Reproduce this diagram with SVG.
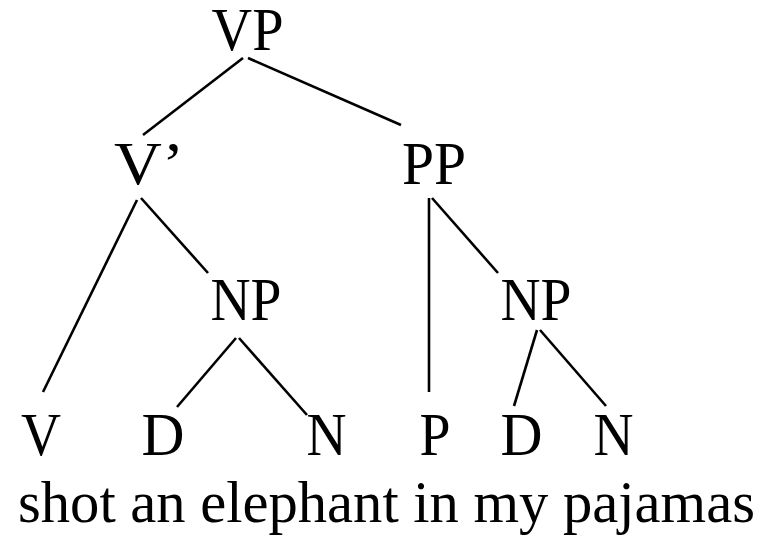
<svg xmlns="http://www.w3.org/2000/svg" width="764" height="539" viewBox="0 0 764 539">
<style>
.lbl{font-family:"Liberation Serif","Times New Roman",serif;font-size:61px;fill:#000;text-anchor:middle}
.sent{font-family:"Liberation Serif","Times New Roman",serif;font-size:60px;fill:#000}
.edge{stroke:#000;stroke-width:2.6;fill:none;stroke-linecap:butt}
</style>
<rect width="764" height="539" fill="#fff"/>
<g id="connectors">
<line class="edge" x1="243" y1="58" x2="143" y2="135"/>
<line class="edge" x1="248" y1="58" x2="401" y2="125"/>
<line class="edge" x1="137" y1="200" x2="43" y2="392"/>
<line class="edge" x1="141" y1="198" x2="208" y2="273"/>
<line class="edge" x1="429" y1="198" x2="429" y2="392"/>
<line class="edge" x1="432" y1="198" x2="498" y2="273"/>
<line class="edge" x1="236" y1="338" x2="177" y2="407"/>
<line class="edge" x1="239" y1="338" x2="307" y2="415"/>
<line class="edge" x1="537" y1="330" x2="514" y2="406"/>
<line class="edge" x1="540" y1="330" x2="606" y2="406"/>
</g>
<g id="node-VP"><text class="lbl" x="247.5" y="50" textLength="72" lengthAdjust="spacingAndGlyphs">VP</text></g>
<g id="node-Vbar"><text class="lbl" x="149" y="184" textLength="70" lengthAdjust="spacingAndGlyphs">V’</text></g>
<g id="node-PP"><text class="lbl" x="434" y="184" textLength="64" lengthAdjust="spacingAndGlyphs">PP</text></g>
<g id="node-NP1"><text class="lbl" x="246" y="320" textLength="71" lengthAdjust="spacingAndGlyphs">NP</text></g>
<g id="node-NP2"><text class="lbl" x="536" y="320" textLength="71" lengthAdjust="spacingAndGlyphs">NP</text></g>
<g id="node-V"><text class="lbl" x="41" y="455" textLength="40" lengthAdjust="spacingAndGlyphs">V</text></g>
<g id="node-D1"><text class="lbl" x="163" y="455" textLength="43" lengthAdjust="spacingAndGlyphs">D</text></g>
<g id="node-N1"><text class="lbl" x="326.5" y="455" textLength="40" lengthAdjust="spacingAndGlyphs">N</text></g>
<g id="node-P"><text class="lbl" x="435" y="455" textLength="31" lengthAdjust="spacingAndGlyphs">P</text></g>
<g id="node-D2"><text class="lbl" x="521.5" y="455" textLength="42" lengthAdjust="spacingAndGlyphs">D</text></g>
<g id="node-N2"><text class="lbl" x="613.5" y="455" textLength="40" lengthAdjust="spacingAndGlyphs">N</text></g>
<g id="sentence"><text class="sent" x="18" y="522" textLength="737" lengthAdjust="spacingAndGlyphs">shot an elephant in my pajamas</text></g>
</svg>
